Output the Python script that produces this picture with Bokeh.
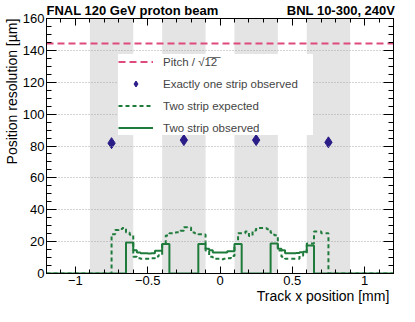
import numpy as np
from bokeh.plotting import figure
from bokeh.models import (Range1d, LinearAxis, Legend, LegendItem,
                          SingleIntervalTicker, CustomJSTickFormatter)
from bokeh.embed import file_html
from bokeh.resources import INLINE

# ---------------- data ----------------
x_min, x_max = -1.2, 1.2
y_min, y_max = 0, 160

strip_centers = [-0.75, -0.25, 0.25, 0.75]
strip_width = 0.3
pitch_resolution = 144.3
one_strip_resolution = [81.8, 83.7, 83.7, 82.3]

bin_width = 0.025
expected_first_edge = -0.75
expected_values = [
    24.7, 27.3, 28.0, 28.6, 25.7, 24.3,
    10.5, 9.5, 9.3, 9.3, 9.3, 9.6, 10.7, 11.5,
    19.0, 23.8, 25.3, 25.7, 25.9, 26.9, 29.0, 28.8, 25.8, 25.3, 24.7, 24.5,
    14.5, 10.5, 9.3, 9.3, 9.0, 9.3, 9.6, 11.0,
    18.5, 25.3, 25.3, 26.3, 23.6, 27.0, 28.6, 28.6, 28.4, 27.8, 25.5, 24.0,
    14.5, 10.5, 9.3, 9.3, 9.3, 9.3, 11.1, 12.5,
    18.9, 18.9, 26.3, 26.3, 25.3, 25.3,
]
observed_first_edge = -0.65
observed_values = [
    19.4, 19.4, 14.6, 13.2, 12.7, 12.7, 12.5, 12.7, 14.2, 14.2, 18.5, 18.5,
    0, 0, 0, 0, 0, 0, 0, 0,
    18.5, 18.5, 15.6, 14.6, 13.2, 13.2, 13.2, 13.2, 14.0, 14.0, 18.5, 18.5,
    0, 0, 0, 0, 0, 0, 0, 0,
    18.9, 18.9, 15.6, 14.6, 12.7, 12.7, 12.7, 12.9, 13.4, 13.6, 17.5, 17.5,
]

legend_labels = ["Pitch / \u221a1\u03052\u0305", "Exactly one strip observed",
                 "Two strip expected", "Two strip observed"]
title_left = "FNAL 120 GeV proton beam"
title_right = "BNL 10-300, 240V"
x_label = "Track x position [mm]"
y_label = "Position resolution [\u00b5m]"

# ---------------- styles ----------------
FONT = "Liberation Sans"
PINK = "#de4a7a"
GREEN = "#1f7b3b"
BLUE = "#2a1d87"
BAND = "#e4e4e4"
NBSP = "\u00a0"


def step_xy(first_edge, values):
    xs, ys = [x_min, first_edge], [0, 0]
    hi = first_edge
    for i, v in enumerate(values):
        lo = first_edge + i * bin_width
        hi = lo + bin_width
        xs += [lo, hi]
        ys += [v, v]
    xs += [hi, x_max]
    ys += [0, 0]
    return xs, ys


p = figure(width=399, height=306, output_backend="svg", toolbar_location=None,
           x_range=Range1d(x_min, x_max), y_range=Range1d(y_min, y_max),
           min_border_left=0, min_border_right=6, min_border_top=0,
           min_border_bottom=32, x_axis_location=None, y_axis_location=None)
p.outline_line_color = "black"
p.outline_line_width = 1
p.background_fill_color = "white"
p.border_fill_color = "white"

# title line: left and right texts on one line
p.title.text = title_left + NBSP * 19 + title_right
p.title.align = "left"
p.title.text_font = FONT
p.title.text_font_size = "13px"
p.title.text_font_style = "bold"
p.title.text_color = "black"
p.title.standoff = 1
p.title.offset = 0

xticker = SingleIntervalTicker(interval=0.5, num_minor_ticks=5)
yticker = SingleIntervalTicker(interval=20, num_minor_ticks=4)
minus_fmt = CustomJSTickFormatter(
    code="return tick < 0 ? '\\u2212' + String(-tick) : String(tick);")
empty_fmt = CustomJSTickFormatter(code="return '';")


def make_axis(ticker, fmt, major, minor, show):
    return LinearAxis(ticker=ticker, formatter=fmt,
                      major_tick_in=major, major_tick_out=0,
                      minor_tick_in=minor, minor_tick_out=0,
                      major_tick_line_color="black", minor_tick_line_color="black",
                      axis_line_color="black",
                      major_label_standoff=2 if show else 0,
                      major_label_text_font=FONT,
                      major_label_text_font_size="13px" if show else "0px",
                      major_label_text_color="black",
                      axis_label_text_font=FONT,
                      axis_label_text_font_size="14px",
                      axis_label_text_font_style="normal",
                      axis_label_text_color="black",
                      axis_label_standoff=0)


# ROOT-style axis titles: flush with the axis end (padding keeps them centred)
xaxis = make_axis(xticker, minus_fmt, 7, 4, True)
yaxis = make_axis(yticker, minus_fmt, 10, 5, True)
xaxis.axis_label = NBSP * 53 + x_label
yaxis.axis_label = NBSP * 28 + y_label
p.add_layout(xaxis, "below")
p.add_layout(yaxis, "left")
p.add_layout(make_axis(xticker, empty_fmt, 7, 4, False), "above")
p.add_layout(make_axis(yticker, empty_fmt, 10, 5, False), "right")

p.xgrid.visible = False
p.ygrid.ticker = yticker
p.ygrid.grid_line_color = "#a8a8a8"
p.ygrid.grid_line_dash = "1 2"
p.ygrid.grid_line_width = 1
p.ygrid.level = "glyph"

# strip bands
p.vbar(x=strip_centers, width=strip_width, bottom=y_min, top=y_max,
       fill_color=BAND, line_color=None, level="underlay")

r_pitch = p.line(x=[x_min, x_max], y=[pitch_resolution, pitch_resolution],
                 line_color=PINK, line_width=2, line_dash="7 4")
r_one = p.scatter(x=strip_centers, y=one_strip_resolution, marker="diamond",
                  size=11, fill_color=BLUE, line_color=BLUE)
ex, ey = step_xy(expected_first_edge, expected_values)
r_exp = p.line(x=ex, y=ey, line_color=GREEN, line_width=2, line_dash="4 3")
ox, oy = step_xy(observed_first_edge, observed_values)
r_obs = p.line(x=ox, y=oy, line_color=GREEN, line_width=2)

legend = Legend(items=[LegendItem(label=legend_labels[0], renderers=[r_pitch]),
                       LegendItem(label=legend_labels[1], renderers=[r_one]),
                       LegendItem(label=legend_labels[2], renderers=[r_exp]),
                       LegendItem(label=legend_labels[3], renderers=[r_obs])],
                location=(72, 138), margin=0, padding=4, spacing=7,
                glyph_width=35, glyph_height=15, label_height=15,
                label_width=150, label_standoff=10,
                label_text_font=FONT, label_text_font_size="11.5px",
                border_line_color=None, background_fill_color="white",
                background_fill_alpha=1.0)
p.add_layout(legend, "center")

open("out.html", "w").write(file_html(p, INLINE))
